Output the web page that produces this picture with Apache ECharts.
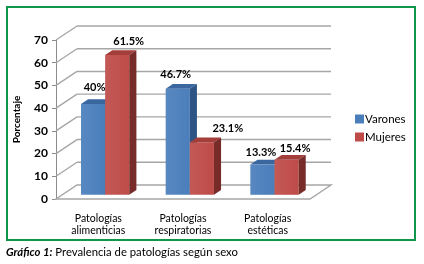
<!DOCTYPE html>
<html><head><meta charset="utf-8">
<script src="https://cdn.jsdelivr.net/npm/echarts@6/dist/echarts.min.js"></script>
<style>html,body{margin:0;padding:0;background:#fff}#c{width:424px;height:264px}</style>
</head><body><div id="c"></div>
<script>
const categories = ['Patologías\nalimenticias', 'Patologías\nrespiratorias', 'Patologías\nestéticas'];
const varones = [40, 46.7, 13.3];
const mujeres = [61.5, 23.1, 15.4];
const varonesLabels = ['40%', '46.7%', '13.3%'];
const mujeresLabels = ['61.5%', '23.1%', '15.4%'];
const yTicks = [0, 10, 20, 30, 40, 50, 60, 70];

// style constants (3D look)
const DX = 21, DY = -14;          // full depth offset of back wall
const F0 = 0.3, F1 = 0.64;        // bar front / back depth fractions
const BAR_FR = 0.285;             // bar width as fraction of band
const labelShift = { // [dx, dy] relative to bar top-front center
  0: [[1.5, -16], [-2, -14], [-1.5, -12]],
  1: [[11.5, -14], [26, -14], [8.5, -11.5]]
};
const FONT = 'Lato';
const COLORS = [
  { front: '#4A7EBB', top: '#3A67A0', side: '#2C5585' },
  { front: '#BE4B48', top: '#A33E3B', side: '#772C2A' }
];

const chart = echarts.init(document.getElementById('c'), null, { renderer: 'canvas' });

function wallRender(params, api) {
  const v = api.value(0);
  const p0 = api.coord([0, v]);
  const xs = api.coord([0, 0]);
  const band = api.size([1, 0])[0];
  const xl = xs[0] - band / 2;
  const xr = xl + band * categories.length;
  const y = p0[1];
  const st = { stroke: '#A6A6A6', lineWidth: 1.4 };
  const children = [];
  if (v === 0) {
    children.push({ type: 'polygon', shape: { points: [[xl, y], [xr, y], [xr + DX, y + DY], [xl + DX, y + DY]] },
      style: { fill: '#fff', stroke: '#A6A6A6', lineWidth: 1.4 } });
  } else {
    children.push({ type: 'line', shape: { x1: xl, y1: y, x2: xl + DX, y2: y + DY }, style: st });
    children.push({ type: 'line', shape: { x1: xl + DX, y1: y + DY, x2: xr + DX, y2: y + DY }, style: st });
  }
  return { type: 'group', children };
}

function barRender(si, labels) {
  return function (params, api) {
    const ci = api.value(0), v = api.value(1);
    const c = api.coord([ci, v]);
    const b = api.coord([ci, 0]);
    const band = api.size([1, 0])[0];
    const bw = band * BAR_FR;
    const x0 = c[0] - bw + si * bw + F0 * DX + 0.5;
    const x1 = x0 + bw;
    const yt = c[1] + F0 * DY;
    const yb = b[1] + F0 * DY;
    const bx = (F1 - F0) * DX, by = (F1 - F0) * DY;
    const col = COLORS[si];
    const sh = labelShift[si][ci];
    return {
      type: 'group',
      children: [
        { type: 'rect', shape: { x: x0, y: yt, width: bw, height: yb - yt },
          style: { fill: new echarts.graphic.LinearGradient(0, 0, 1, 0, [{ offset: 0, color: echarts.color.lift(col.front, 0.08) }, { offset: 1, color: col.front }]) } },
        { type: 'polygon', shape: { points: [[x0, yt], [x1, yt], [x1 + bx, yt + by], [x0 + bx, yt + by]] }, style: { fill: col.top } },
        { type: 'polygon', shape: { points: [[x1, yt], [x1 + bx, yt + by], [x1 + bx, yb + by], [x1, yb]] }, style: { fill: col.side } },
        { type: 'text', x: x0 + bw / 2 + sh[0], y: yt + sh[1],
          style: { text: labels[ci], fill: '#000', font: 'bold 11px ' + FONT, align: 'center', verticalAlign: 'middle' } }
      ]
    };
  };
}

chart.setOption({
  animation: false,
  backgroundColor: '#fff',
  textStyle: { fontFamily: FONT },
  grid: { left: 56, right: 114, top: 40, bottom: 65 },
  legend: {
    orient: 'vertical', left: 350, top: 108, itemWidth: 9, itemHeight: 9, itemGap: 6,
    data: ['Varones', 'Mujeres'], icon: 'rect',
    textStyle: { fontSize: 11.5, color: '#000', fontFamily: FONT, padding: [0, 0, 0, -4] }
  },
  xAxis: {
    type: 'category', data: categories,
    axisLine: { show: false }, axisTick: { show: false },
    axisLabel: { fontSize: 10.5, color: '#000', lineHeight: 12, margin: 14, fontFamily: FONT, interval: 0 }
  },
  yAxis: {
    type: 'value', min: 0, max: 70, interval: 10,
    name: 'Porcentaje', nameLocation: 'middle', nameGap: 34,
    nameTextStyle: { fontSize: 10, fontWeight: 'bold', color: '#000', fontFamily: FONT },
    axisLine: { show: true, lineStyle: { color: '#8C8C8C', width: 1 } },
    axisTick: { show: true, length: 4, lineStyle: { color: '#8C8C8C' } },
    axisLabel: { fontSize: 12, fontWeight: 'bold', color: '#000', margin: 8, fontFamily: FONT },
    splitLine: { show: false }
  },
  graphic: [
    { type: 'rect', shape: { x: 7, y: 7, width: 408, height: 233 }, style: { fill: null, stroke: '#10964A', lineWidth: 2 }, z: 100 },
    { type: 'text', x: 6, y: 252, style: { text: '{i|Gráfico 1:} Prevalencia de patologías según sexo', font: '11.3px ' + FONT, fill: '#000', verticalAlign: 'middle',
      rich: { i: { fontStyle: 'italic', fontWeight: 'bold', fontSize: 11.3, fontFamily: FONT, fill: '#000' } } } }
  ],
  series: [
    { type: 'custom', name: 'walls', renderItem: wallRender, data: yTicks.map(t => [t]), encode: { y: 0 }, silent: true, z: 1 },
    { type: 'custom', name: 'Varones', itemStyle: { color: '#4A7EBB' }, renderItem: barRender(0, varonesLabels), data: varones.map((v, i) => [i, v]), encode: { x: 0, y: 1 }, z: 2 },
    { type: 'custom', name: 'Mujeres', itemStyle: { color: '#BE4B48' }, renderItem: barRender(1, mujeresLabels), data: mujeres.map((v, i) => [i, v]), encode: { x: 0, y: 1 }, z: 3 }
  ]
});
</script></body></html>
